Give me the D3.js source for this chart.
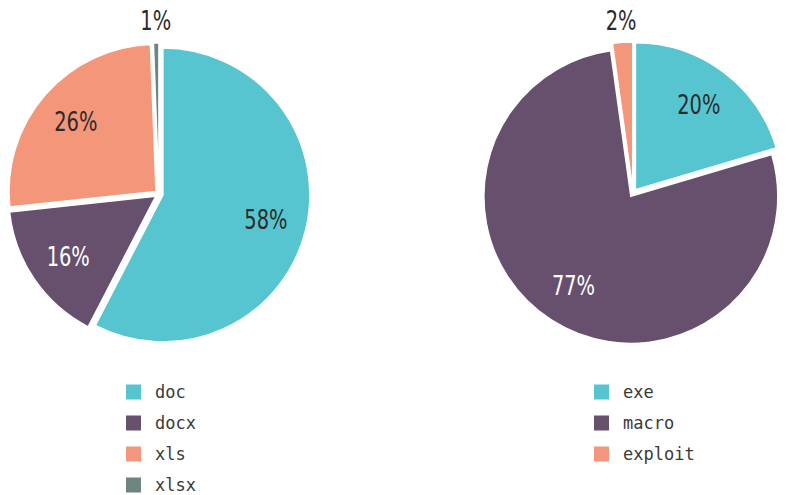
<!DOCTYPE html>
<html>
<head>
<meta charset="utf-8">
<script src="https://cdn.jsdelivr.net/npm/d3@7"></script>
<style>
  body { margin: 0; background: #fff; }
  .lbl { font-family: "Liberation Sans Narrow", "DejaVu Sans Condensed", sans-serif; font-size: 27px; font-weight: 300; }
  .leg { font-family: "DejaVu Sans Mono", monospace; font-size: 17px; fill: #3a3a3a; }
</style>
</head>
<body>
<svg width="787" height="495"></svg>
<script>
// file types of malicious documents
var docTypes = ['doc', 'docx', 'xls', 'xlsx']
var docShares = [57.6, 15.7, 26.1, 0.6]
var docColors = ['#57c5cf', '#67506d', '#f4967a', '#6b8580']

// infection method
var methods = ['exe', 'macro', 'exploit']
var methodShares = [20.4, 77.4, 2.2]
var methodColors = ['#57c5cf', '#67506d', '#f4967a']

// slices whose label is white
var darkColors = ['#67506d', '#6b8580']

var svg = d3.select('svg')
var r = 147

function drawPie (cx, cy, names, values, colors, legX) {
  var data = names.map(function (n, i) { return { name: n, value: values[i], color: colors[i] } })
  var pie = d3.pie().sort(null).value(function (d) { return d.value })
  var arcs = pie(data)
  var arc = d3.arc().innerRadius(0).outerRadius(r)
  var g = svg.append('g').attr('transform', 'translate(' + cx + ',' + cy + ')')

  function offset (d, dist) {
    var a = (d.startAngle + d.endAngle) / 2
    return [Math.sin(a) * dist, -Math.cos(a) * dist]
  }

  g.selectAll('path')
    .data(arcs)
    .enter()
    .append('path')
    .attr('d', arc)
    .attr('transform', function (d) { var o = offset(d, 4); return 'translate(' + o[0] + ',' + o[1] + ')' })
    .attr('fill', function (d) { return d.data.color })
    .attr('stroke', '#fff')
    .attr('stroke-width', 1.5)

  // narrow look: squeeze the label glyphs horizontally
  g.selectAll('text')
    .data(arcs)
    .enter()
    .append('text')
    .attr('class', 'lbl')
    .attr('text-anchor', 'middle')
    .attr('dominant-baseline', 'central')
    .attr('transform', function (d) {
      var o = offset(d, d.data.value < 5 ? r + 26 : 110)
      return 'translate(' + o[0] + ',' + o[1] + ') scale(0.8,1)'
    })
    .attr('fill', function (d) {
      return d.data.value >= 5 && darkColors.indexOf(d.data.color) >= 0 ? '#fff' : '#2b2b2b'
    })
    .text(function (d) { return Math.round(d.data.value) + '%' })

  var leg = svg.append('g').attr('transform', 'translate(' + legX + ',392)')
  var item = leg.selectAll('g')
    .data(data)
    .enter()
    .append('g')
    .attr('transform', function (d, i) { return 'translate(0,' + (i * 31) + ')' })
  item.append('rect')
    .attr('x', 0).attr('y', -7.5)
    .attr('width', 15).attr('height', 15)
    .attr('fill', function (d) { return d.color })
  item.append('text')
    .attr('class', 'leg')
    .attr('x', 29)
    .attr('dominant-baseline', 'central')
    .text(function (d) { return d.name })
}

drawPie(159, 194, docTypes, docShares, docColors, 126)
drawPie(633, 193, methods, methodShares, methodColors, 594)
</script>
</body>
</html>
